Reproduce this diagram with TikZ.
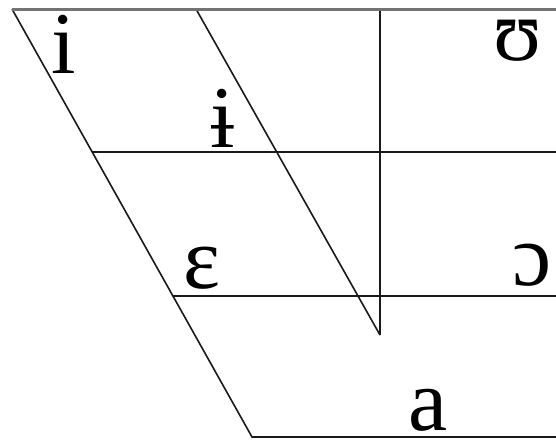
\documentclass[tikz,border=0pt]{standalone}
\usepackage{fontspec}
\setmainfont{Liberation Serif}
\begin{document}
\begin{tikzpicture}[x=1pt,y=-1pt,
  rule/.style={black!90, line width=1.6pt},
  toprule/.style={black!55, line width=3pt},
  vowel/.style={font=\fontsize{88}{88}\selectfont, inner sep=0pt, anchor=base}]
\useasboundingbox (0,0) rectangle (556,439);
\fill[white] (0,0) rectangle (556,439);
% frame coordinates
\coordinate (tl) at (12,9);
\coordinate (tr) at (556,9);
\coordinate (bl) at (252,437);
\coordinate (br) at (556,437);
\coordinate (s2top) at (196,9);
\coordinate (s2bot) at (380,335);
\coordinate (vtop) at (380,9);
\coordinate (h1l) at (92,152);
\coordinate (h1r) at (556,152);
\coordinate (h2l) at (173,296);
\coordinate (h2r) at (556,296);
% lines
\draw[rule] (tl) -- (bl) -- (br);
\draw[rule] (s2top) -- (s2bot);
\draw[rule] (vtop) -- (s2bot);
\draw[rule] (h1l) -- (h1r);
\draw[rule] (h2l) -- (h2r);
\draw[toprule] (tl) -- (tr);
% vowels
\node[vowel] (i) at (64,73) {i};
\node[vowel] (ibar) at (223,147) {ɨ};
\node[vowel] (upsilon) at (518,60) {ʊ};
\node[vowel] (epsilon) at (202,288) {ɛ};
\node[vowel] (openo) at (532,285) {ɔ};
\node[vowel] (a) at (428,430) {a};
\end{tikzpicture}
\end{document}
